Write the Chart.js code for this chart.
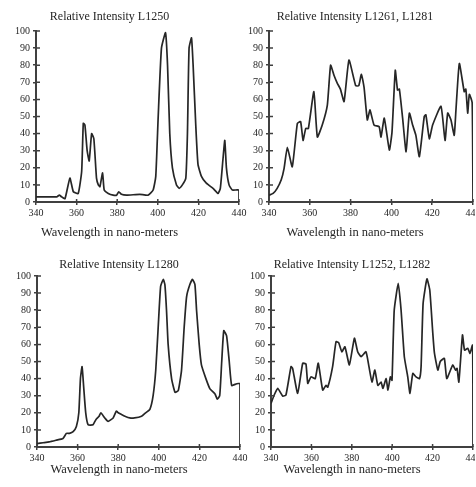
<!DOCTYPE html>
<html>
<head>
<meta charset="utf-8">
<script src="https://cdn.jsdelivr.net/npm/chart.js@4/dist/chart.umd.min.js"></script>
<style>
  html, body { margin: 0; padding: 0; background: #fff; }
  body { position: relative; width: 476px; height: 487px; overflow: hidden; }
  canvas { position: absolute; }
</style>
</head>
<body>
<canvas id="c1"></canvas>
<canvas id="c2"></canvas>
<canvas id="c3"></canvas>
<canvas id="c4"></canvas>
<script>
// ---------- data ----------
const titles = ["Relative Intensity L1250", "Relative Intensity L1261, L1281",
                "Relative Intensity L1280", "Relative Intensity L1252, L1282"];
const xAxisLabel = "Wavelength in nano-meters";
const xTicks = [340, 360, 380, 400, 420, 440];
const yTicks = [0, 10, 20, 30, 40, 50, 60, 70, 80, 90, 100];

const wl1 = [340, 350.2, 351.5, 352.6, 354.3, 356.7, 358.4, 360.8, 362.5, 363.3, 364.1, 365.2, 366.2, 367.4, 368.5, 369.8, 370.7, 371.5, 372.8, 373.6, 375.6, 378, 379.7, 380.8, 382.1, 384.6, 391.1, 395.2, 397.7, 399, 400.2, 401.8, 403.8, 404.8, 405.9, 407.2, 409.2, 410.5, 412.1, 413.8, 414.6, 415.4, 416.6, 417.4, 418.7, 419.8, 421.5, 423.9, 427.2, 429.7, 430.8, 432.1, 433, 433.8, 435.1, 436.7, 440, 440];
const int1 = [3, 3, 4, 3, 2, 14, 6, 5, 18, 46, 45, 30, 24, 40, 37, 14, 10, 9, 17, 7, 5, 4, 4, 6, 4.5, 4, 4.5, 4, 7, 15, 50, 90, 99, 80, 40, 20, 10, 8, 10, 14, 40, 90, 96, 80, 45, 22, 15, 11, 8, 5, 8, 25, 36, 20, 10, 7, 7, 0];

const wl2 = [340, 342, 344, 346, 347.4, 349, 351.4, 353.9, 355.5, 356.7, 358, 359.3, 362, 363.7, 366.1, 368.6, 370.2, 371.9, 373.5, 375, 376.8, 379.2, 382.5, 384, 385.3, 386.6, 388.2, 389.5, 391.5, 394, 394.9, 396.5, 399, 400.3, 401.9, 403, 403.9, 405.5, 407.2, 408.8, 410.4, 412, 413.7, 416.1, 416.9, 418.6, 420.2, 424.3, 426.3, 427.6, 429.2, 430.8, 431.6, 433.3, 435.7, 436.5, 437.4, 438.2, 439.6, 440];
const int2 = [4, 5, 8, 13, 19.7, 32, 20.6, 46, 47, 36, 43, 43, 64.5, 38, 45, 56.7, 80, 74, 69.4, 66, 58.7, 83, 68, 68, 74.7, 67, 48, 53.8, 45, 44, 38, 49, 30.4, 41, 77, 65.5, 66, 49, 29.4, 52, 45, 39, 26.5, 50, 51, 37, 45, 56, 36, 52, 48, 39, 53, 81, 64.5, 66, 52, 63, 58, 0];

const wl3 = [340, 343, 346, 349.5, 352.8, 354.5, 356, 357.8, 359.4, 360.6, 361.4, 362.2, 363, 364, 365.2, 367.6, 369, 370.6, 371.4, 373.4, 375, 377.5, 379.1, 380, 381.6, 383.3, 385.7, 388, 391.5, 393.5, 395.6, 397.2, 398.5, 399.7, 400.9, 402.2, 403, 403.8, 404.6, 406.3, 408, 409.6, 411.2, 412.5, 413.7, 415.3, 416.6, 417.8, 418.6, 419.9, 421, 423.2, 425.2, 427.7, 428.8, 430, 431, 432, 433.4, 434.7, 435.9, 438.4, 440, 440];
const int3 = [2, 2.5, 3, 4, 5, 8, 8, 9, 12, 20, 40, 47, 35, 20, 13, 13, 16, 18, 20, 17, 15, 17, 21, 20, 19, 18, 17, 17, 18, 20, 22, 30, 45, 70, 94, 98, 95, 80, 60, 40, 32, 33, 45, 70, 88, 95, 98, 95, 80, 60, 48, 40, 34, 31, 28, 30, 50, 68, 65, 50, 36, 37, 37, 0];

const wl4 = [340, 341.6, 343.3, 345.8, 347.4, 349.9, 350.7, 353.2, 355.7, 357.3, 358.2, 359.8, 361.9, 363.4, 365.6, 367.2, 368.1, 370.5, 372.2, 373.5, 375.1, 376.6, 378.8, 381.3, 382.9, 384.6, 387, 388.5, 390, 391.4, 392.9, 394.5, 395.4, 397, 397.9, 399.1, 399.9, 401, 403, 404.4, 406, 407.7, 408.8, 410.2, 411.8, 413.5, 414.3, 415.3, 417.2, 418.6, 420.1, 420.9, 422.6, 423.8, 425.8, 427, 429.2, 430, 431.4, 432.1, 433, 434.8, 435.8, 437.4, 438.5, 439.8, 440];
const int4 = [25.5, 30.4, 34.3, 29.8, 30.4, 47, 46, 31.4, 49, 48.5, 37.2, 41, 40, 49, 33.3, 36, 35, 47, 61.6, 61, 55.7, 58.6, 48, 63.6, 55.7, 52.8, 55.7, 47, 38, 45, 36, 38, 34.3, 40, 33.3, 41, 39, 80, 95.7, 80, 52.8, 41, 31.4, 43, 41, 40, 47, 84, 98.3, 91.8, 66.5, 55, 45, 50, 51.8, 40, 46, 48, 45, 46, 38, 65.5, 56.7, 57.7, 54.8, 59.6, 0];

// ---------- styling ----------
const INK = '#262626';
const AXIS = '#404040';
const SERIF = '"Liberation Serif", "Times New Roman", serif';

const innerTicks = {
  id: 'innerTicks',
  afterDraw(chart) {
    const ctx = chart.ctx, xs = chart.scales.x, ys = chart.scales.y;
    ctx.save();
    ctx.strokeStyle = AXIS;
    ctx.lineWidth = 1.5;
    ctx.beginPath();
    xs.ticks.forEach(t => { const p = xs.getPixelForValue(t.value); ctx.moveTo(p, xs.top); ctx.lineTo(p, xs.top - 3); });
    ys.ticks.forEach(t => { const p = ys.getPixelForValue(t.value); ctx.moveTo(ys.right, p); ctx.lineTo(ys.right + 4, p); });
    ctx.stroke();
    ctx.restore();
  }
};

function makeChart(id, title, wl, vals, g) {
  const cv = document.getElementById(id);
  cv.width = g.w; cv.height = g.h;
  cv.style.left = g.left + 'px'; cv.style.top = g.top + 'px';
  cv.style.width = g.w + 'px'; cv.style.height = g.h + 'px';
  return new Chart(cv, {
    type: 'line',
    data: {
      datasets: [{
        data: wl.map((x, i) => ({ x: x, y: vals[i] })),
        borderColor: INK,
        borderWidth: 1.7,
        pointRadius: 0,
        tension: 0.15,
        fill: false
      }]
    },
    options: {
      responsive: false,
      devicePixelRatio: 1,
      animation: false,
      layout: { padding: { left: 0, right: g.padRight, top: 0, bottom: 0 } },
      plugins: {
        legend: { display: false },
        tooltip: { enabled: false },
        title: {
          display: true, text: title, color: INK,
          font: { family: SERIF, size: 12, weight: 'normal', lineHeight: 1.2 },
          padding: g.titlePad
        },
        subtitle: {
          display: true, text: xAxisLabel, position: 'bottom', color: INK,
          font: { family: SERIF, size: 12.5, weight: 'normal', lineHeight: 1.2 },
          padding: g.subPad
        }
      },
      scales: {
        x: {
          type: 'linear', min: 340, max: 440,
          afterBuildTicks(s) { s.ticks = xTicks.map(v => ({ value: v })); },
          afterFit(s) { s.height = g.xHeight; s.paddingLeft = 0; s.paddingRight = 0; },
          ticks: { color: INK, font: { family: SERIF, size: 10, lineHeight: 1.2 }, padding: g.xTickPad, maxRotation: 0, autoSkip: false },
          grid: { display: true, drawOnChartArea: false, drawTicks: true, tickLength: 3, color: AXIS, lineWidth: 1.5 },
          border: { display: true, color: AXIS, width: 2 }
        },
        y: {
          type: 'linear', min: 0, max: 100,
          afterBuildTicks(s) { s.ticks = yTicks.map(v => ({ value: v })); },
          afterFit(s) { s.width = g.yWidth; s.paddingTop = 0; s.paddingBottom = 0; },
          ticks: { color: INK, font: { family: SERIF, size: 10, lineHeight: 1.2 }, padding: 3, autoSkip: false },
          grid: { display: true, drawOnChartArea: false, drawTicks: true, tickLength: 3, color: AXIS, lineWidth: 1.5 },
          border: { display: true, color: AXIS, width: 2 }
        }
      }
    },
    plugins: [innerTicks]
  });
}

const topRow = { h: 243, top: 0, titlePad: { top: 9.8, bottom: 6.8 }, xHeight: 18, subPad: { top: 5.5, bottom: 2.5 }, xTickPad: 2 };
const botRow = { h: 244, top: 243, titlePad: { top: 14.8, bottom: 3.8 }, xHeight: 14, subPad: { top: 1.5, bottom: 9.5 }, xTickPad: 2.3 };

makeChart('c1', titles[0], wl1, int1, Object.assign({}, topRow, { left: -20, w: 268, yWidth: 56, padRight: 9 }));
makeChart('c2', titles[1], wl2, int2, Object.assign({}, topRow, { left: 237, w: 238, yWidth: 32, padRight: 2 }));
makeChart('c3', titles[2], wl3, int3, Object.assign({}, botRow, { left: -2, w: 251, yWidth: 39, padRight: 9 }));
makeChart('c4', titles[3], wl4, int4, Object.assign({}, botRow, { left: 231, w: 244, yWidth: 40, padRight: 2 }));
</script>
</body>
</html>
